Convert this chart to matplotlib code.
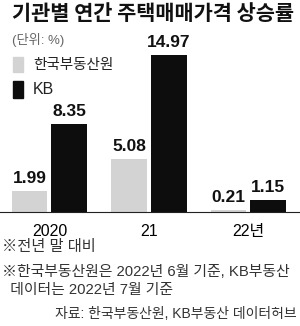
import matplotlib
matplotlib.use("Agg")
import matplotlib.pyplot as plt
from matplotlib.patches import Rectangle
import numpy as np

# ---- data ----
categories = ["2020", "21", "22년"]
series_names = ["한국부동산원", "KB"]
reb_values = [1.99, 5.08, 0.21]
kb_values = [8.35, 14.97, 1.15]
title = "기관별 연간 주택매매가격 상승률"
unit_text = "(단위: %)"
notes = ["※전년 말 대비",
         "※한국부동산원은 2022년 6월 기준, KB부동산",
         "  데이터는 2022년 7월 기준"]
source = "자료: 한국부동산원, KB부동산 데이터허브"

GRAY = "#d3d3d3"
BLACK = "#0d0d0d"
FAM = ["Liberation Sans", "Noto Sans CJK KR"]
KFAM = ["Noto Sans CJK KR", "DejaVu Sans"]

W, H = 300, 326
fig = plt.figure(figsize=(W / 100, H / 100), dpi=100)
fig.patch.set_facecolor("white")

def fx(x):
    return x / W

def fy(y):
    return 1 - y / H

# axes: baseline at y=212px, 10.5 px per unit
base_px = 212
ppu = 10.5
ymax = 18
ax = fig.add_axes([0, fy(base_px), 1, ymax * ppu / H])
ax.set_xlim(-0.497, 2.518)
ax.set_ylim(0, ymax)
ax.axis("off")
ax.patch.set_alpha(0)

x = np.arange(len(categories))
w = 0.36
off = 0.2
b1 = ax.bar(x - off, reb_values, w, color=GRAY)
b2 = ax.bar(x + off, kb_values, w, color=BLACK)
for bars, vals in ((b1, reb_values), (b2, kb_values)):
    for r, v in zip(bars, vals):
        ax.annotate(f"{v:.2f}", (r.get_x() + r.get_width() / 2, v),
                    xytext=(0, 3.5), textcoords="offset points",
                    ha="center", va="bottom", fontsize=12.5,
                    fontweight="bold", family=FAM, color="#111111")

# baseline
fig.add_artist(plt.Line2D([0, 1], [fy(base_px), fy(base_px)],
                          color="#222222", lw=0.8, transform=fig.transFigure))

# category labels
for xi, c in zip(x, categories):
    ax.annotate(c, (xi, 0), xytext=(0, -8.5), textcoords="offset points",
                ha="center", va="top", fontsize=11.5, family=FAM, color="#000000",
                annotation_clip=False)

# title
fig.text(fx(153), fy(13.5), title, ha="center", va="center", fontsize=15,
         fontweight="heavy", family=KFAM, color="#111111")

# unit
fig.text(fx(12), fy(40), unit_text, ha="left", va="center", fontsize=9.5,
         family=FAM, color="#666666")

# legend
fig.add_artist(Rectangle((fx(13), fy(72)), fx(10), 15 / H, color=GRAY,
                         transform=fig.transFigure))
fig.add_artist(Rectangle((fx(13), fy(98)), fx(10), 17 / H, color=BLACK,
                         transform=fig.transFigure))
fig.text(fx(33), fy(64.5), series_names[0], ha="left", va="center",
         fontsize=10.5, family=FAM, color="#222222")
fig.text(fx(33), fy(90), series_names[1], ha="left", va="center",
         fontsize=11.5, family=FAM, color="#222222")

# notes
fig.text(fx(2), fy(247.5), notes[0], ha="left", va="center", fontsize=11,
         family=FAM, color="#333333")
fig.text(fx(2), fy(271.5), notes[1], ha="left", va="center", fontsize=10.7,
         family=FAM, color="#333333")
fig.text(fx(2), fy(290), notes[2], ha="left", va="center", fontsize=10.7,
         family=FAM, color="#333333")
fig.text(fx(297), fy(313.5), source, ha="right", va="center", fontsize=10,
         family=FAM, color="#333333")

fig.savefig("out.png", dpi=100, facecolor="white")
